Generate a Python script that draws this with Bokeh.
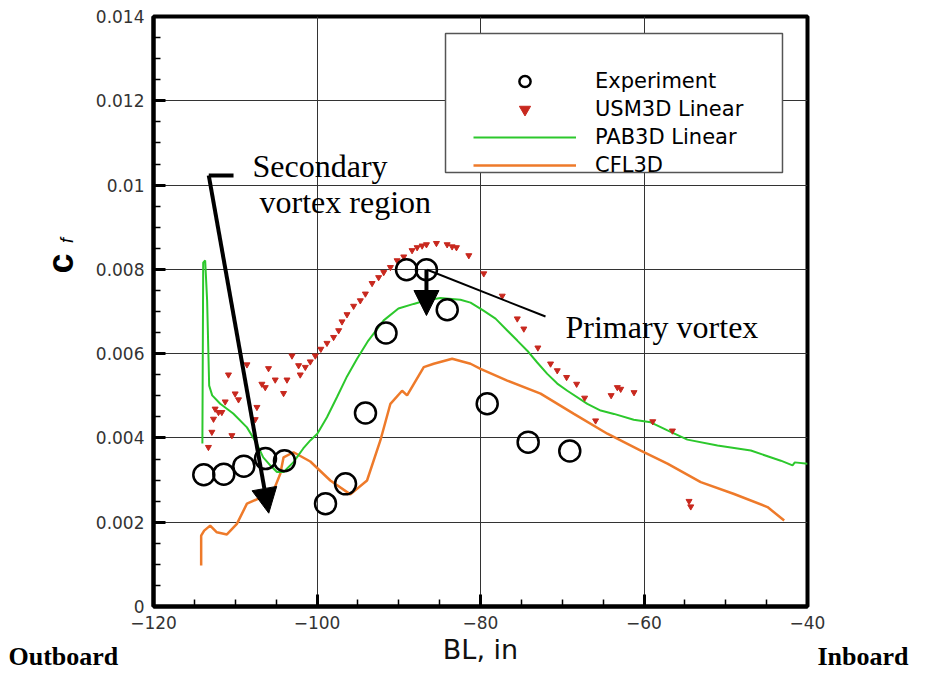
import numpy as np
from bokeh.plotting import figure
from bokeh.models import (Range1d, FixedTicker, CustomJSTickFormatter, Label, Arrow,
                          NormalHead, BoxAnnotation, Legend, LegendItem)
from bokeh.embed import file_html
from bokeh.resources import INLINE

# ---------------- data ----------------
exp_bl = [-113.85, -111.4, -108.95, -106.3, -103.98, -98.96, -96.51, -94.07,
          -91.56, -89.05, -86.61, -84.07, -79.18, -74.17, -69.08]
exp_cf = [0.003125, 0.00314, 0.00333, 0.00351, 0.00346, 0.00244, 0.00291, 0.00459,
          0.00649, 0.00799, 0.00799, 0.00704, 0.00481, 0.0039, 0.00369]

usm_bl = [-113.28, -112.86, -112.66, -112.46, -112.05, -111.64, -111.23, -110.83,
          -110.41, -110.01, -109.60, -108.57, -107.56, -107.35, -106.74, -106.33,
          -105.93, -105.11, -104.09, -103.67, -103.06, -102.25, -102.05, -101.43,
          -100.82, -100.21, -99.53, -98.78, -97.97, -97.35, -96.94, -96.33,
          -95.52, -94.70, -94.08, -93.26, -92.46, -91.84, -91.02, -90.20,
          -89.39, -88.37, -87.75, -87.14, -86.61, -85.39, -84.08, -83.47,
          -82.94, -81.43, -79.60, -77.34, -75.50, -74.70, -72.98, -71.43,
          -70.61, -69.47, -68.24, -67.26, -65.92, -64.02, -63.26, -62.85,
          -61.22, -58.93, -56.52, -54.49, -54.28]
usm_cf = [0.00378, 0.00414, 0.00445, 0.00469, 0.00461, 0.00461, 0.00486, 0.00550,
          0.00406, 0.00505, 0.00491, 0.00574, 0.00444, 0.00473, 0.00528, 0.00520,
          0.00565, 0.00538, 0.00506, 0.00538, 0.00595, 0.00572, 0.00550, 0.00568,
          0.00581, 0.00595, 0.00611, 0.00625, 0.00639, 0.00655, 0.00676, 0.00693,
          0.00713, 0.00726, 0.00742, 0.00767, 0.00781, 0.00793, 0.00805, 0.00821,
          0.00830, 0.00845, 0.00852, 0.00856, 0.00859, 0.00862, 0.00859, 0.00854,
          0.00852, 0.00833, 0.00790, 0.00737, 0.00683, 0.00659, 0.00614, 0.00576,
          0.00560, 0.00544, 0.00528, 0.00495, 0.00441, 0.00501, 0.00520, 0.00516,
          0.00508, 0.00439, 0.00417, 0.00250, 0.00237]

pab_bl = [-114.02, -113.92, -113.68, -113.44, -113.19, -112.82, -111.84, -110.25,
          -108.57, -107.35, -106.58, -105.72, -104.90, -104.09, -102.90, -101.68,
          -100.82, -99.96, -98.78, -97.55, -96.33, -95.10, -93.72, -91.84,
          -90.04, -88.17, -86.74, -84.90, -82.45, -81.22, -79.63, -78.16,
          -76.73, -75.50, -74.28, -73.06, -71.83, -70.61, -69.38, -66.93,
          -65.30, -63.67, -61.26, -59.18, -57.13, -54.69, -51.01, -46.93,
          -43.26, -41.83, -41.55, -39.99]
pab_cf = [0.00387, 0.00816, 0.00821, 0.00726, 0.00524, 0.00501, 0.00481, 0.00458,
          0.00425, 0.00386, 0.00354, 0.00335, 0.00319, 0.00319, 0.00342, 0.00375,
          0.00394, 0.00410, 0.00449, 0.00497, 0.00546, 0.00588, 0.00631, 0.00679,
          0.00707, 0.00718, 0.00726, 0.00732, 0.00728, 0.00721, 0.00702, 0.00683,
          0.00655, 0.00631, 0.00607, 0.00579, 0.00552, 0.00529, 0.00512, 0.00481,
          0.00465, 0.00457, 0.00443, 0.00437, 0.00418, 0.00396, 0.00382, 0.00370,
          0.00346, 0.00335, 0.00342, 0.00339]

cfl_bl = [-114.17, -114.17, -113.80, -113.07, -112.25, -111.02, -109.80, -108.57,
          -107.15, -105.32, -104.49, -104.09, -102.87, -100.82, -98.37, -95.92,
          -93.88, -92.25, -91.02, -89.59, -88.98, -86.94, -85.72, -83.47,
          -81.22, -80.00, -76.73, -72.65, -68.57, -64.48, -60.40, -57.13,
          -53.06, -48.98, -44.89, -42.85]
cfl_cf = [0.00097, 0.00168, 0.00180, 0.00192, 0.00176, 0.00171, 0.00196, 0.00244,
          0.00256, 0.00275, 0.00315, 0.00354, 0.00366, 0.00344, 0.00299, 0.00266,
          0.00299, 0.00394, 0.00481, 0.00512, 0.00501, 0.00568, 0.00576, 0.00588,
          0.00576, 0.00564, 0.00536, 0.00505, 0.00457, 0.00410, 0.00370, 0.00339,
          0.00295, 0.00267, 0.00236, 0.00204]

x_ticks = [-120, -100, -80, -60, -40]
y_ticks = [0, 0.002, 0.004, 0.006, 0.008, 0.01, 0.012, 0.014]

GREEN = "#2CC82C"
ORANGE = "#EE7A2A"
RED = "#C8281E"
serif = "Liberation Serif"

# ---------------- figure ----------------
p = figure(width=910, height=673, output_backend="svg", toolbar_location=None,
           x_range=Range1d(-120, -40), y_range=Range1d(0, 0.014),
           min_border_left=153, min_border_right=103, min_border_top=16,
           min_border_bottom=67, background_fill_color="white",
           border_fill_color="white")

p.outline_line_color = "black"
p.outline_line_width = 4

p.xaxis.ticker = FixedTicker(ticks=x_ticks, minor_ticks=list(np.arange(-120, -39, 5)))
p.yaxis.ticker = FixedTicker(ticks=y_ticks, minor_ticks=list(np.round(np.arange(0, 0.01401, 0.0005), 5)))
p.yaxis.formatter = CustomJSTickFormatter(code="""
    if (Math.abs(tick) < 1e-12) return "0";
    let s = tick.toFixed(3);
    s = s.replace(/0+$/, "");
    return s;
""")

for ax in (p.xaxis[0], p.yaxis[0]):
    ax.axis_line_width = 4
    ax.axis_line_color = "black"
    ax.major_tick_in = 12
    ax.major_tick_out = 0
    ax.minor_tick_in = 7
    ax.minor_tick_out = 0
    ax.major_tick_line_width = 3
    ax.minor_tick_line_width = 1.5
    ax.major_tick_line_color = "black"
    ax.minor_tick_line_color = "black"
    ax.major_label_text_font = "DejaVu Sans"
    ax.major_label_text_font_size = "17px"
    ax.major_label_text_color = "#333333"
    ax.major_label_standoff = 9

p.xaxis.axis_label = "BL, in"
p.xaxis.axis_label_text_font = "DejaVu Sans"
p.xaxis.axis_label_text_font_size = "27px"
p.xaxis.axis_label_text_font_style = "normal"
p.xaxis.axis_label_text_color = "#111111"
p.xaxis.axis_label_standoff = 2

p.grid.grid_line_color = "#333333"
p.grid.grid_line_width = 1

# ---------------- data renderers ----------------
r_cfl = p.line(cfl_bl, cfl_cf, line_color=ORANGE, line_width=2.5)
r_pab = p.line(pab_bl, pab_cf, line_color=GREEN, line_width=2)
r_usm = p.scatter(usm_bl, usm_cf, marker="inverted_triangle", size=6,
                  fill_color=RED, line_color=RED)
r_exp = p.scatter(exp_bl, exp_cf, marker="circle", size=21, fill_color=None,
                  line_color="black", line_width=2.5)

# ---------------- legend ----------------
box = BoxAnnotation(left=-84.28, right=-43.06, bottom=0.010298, top=0.013597,
                    fill_color="white", fill_alpha=1.0, line_color="#555555",
                    line_width=1.5, line_alpha=1.0)
p.add_layout(box)

legend = Legend(items=[LegendItem(label="Experiment", renderers=[r_exp]),
                       LegendItem(label="USM3D Linear", renderers=[r_usm]),
                       LegendItem(label="PAB3D Linear", renderers=[r_pab]),
                       LegendItem(label="CFL3D", renderers=[r_cfl])],
                location=(320, 427), margin=0, padding=0, spacing=0,
                glyph_width=103, glyph_height=28, label_height=28,
                label_standoff=19, label_text_font="DejaVu Sans",
                label_text_font_size="21px", label_text_color="black",
                background_fill_alpha=0, border_line_alpha=0)
p.add_layout(legend)

# ---------------- annotations ----------------
p.add_layout(Arrow(x_start=-113.24, y_start=0.010227, x_end=-110.21, y_end=0.010227,
                   end=None, line_width=4, line_color="black"))
p.add_layout(Arrow(x_start=-113.24, y_start=0.010227, x_end=-105.90, y_end=0.002214,
                   line_width=4, line_color="black",
                   end=NormalHead(size=25, fill_color="black", line_color="black")))
p.add_layout(Arrow(x_start=-86.61, y_start=0.00799, x_end=-86.61, y_end=0.006905,
                   line_width=4, line_color="black",
                   end=NormalHead(size=25, fill_color="black", line_color="black")))
p.add_layout(Arrow(x_start=-86.52, y_start=0.00799, x_end=-72.05, y_end=0.006881,
                   end=None, line_width=2, line_color="black"))

p.add_layout(Label(x=-107.89, y=0.010464, text="Secondary", text_font=serif,
                   text_font_size="32px", text_color="black", text_baseline="alphabetic"))
p.add_layout(Label(x=-107.03, y=0.009598, text="vortex region", text_font=serif,
                   text_font_size="32px", text_color="black", text_baseline="alphabetic"))
p.add_layout(Label(x=-69.60, y=0.006644, text="Primary vortex", text_font=serif,
                   text_font_size="32px", text_color="black", text_baseline="alphabetic"))

# ---------------- texts outside the frame (side panels, not clipped) ----------------
p.add_layout(Label(x=-131.38, y=0.008139, text="c", text_font="Liberation Sans",
                   text_font_size="36px", text_font_style="bold", text_color="black",
                   angle=np.pi / 2, text_baseline="middle", text_align="center"), "left")
p.add_layout(Label(x=-130.52, y=0.008685, text="f", text_font="Liberation Sans",
                   text_font_size="18px", text_font_style="italic", text_color="black",
                   angle=np.pi / 2, text_baseline="middle", text_align="center"), "left")

# zero-height text boxes (second blank line folded back) so the below panel keeps its size
p.add_layout(Label(x=-137.74, y=-0.000854, text="Outboard\n ", text_font=serif,
                   text_font_size="26px", text_font_style="bold", text_color="black",
                   text_line_height=-1.0, text_baseline="top", text_align="left"), "below")
p.add_layout(Label(x=-27.65, y=-0.000854, text="Inboard\n ", text_font=serif,
                   text_font_size="26px", text_font_style="bold", text_color="black",
                   text_line_height=-1.0, text_baseline="top", text_align="right"), "below")

open("out.html", "w").write(file_html(p, INLINE))
